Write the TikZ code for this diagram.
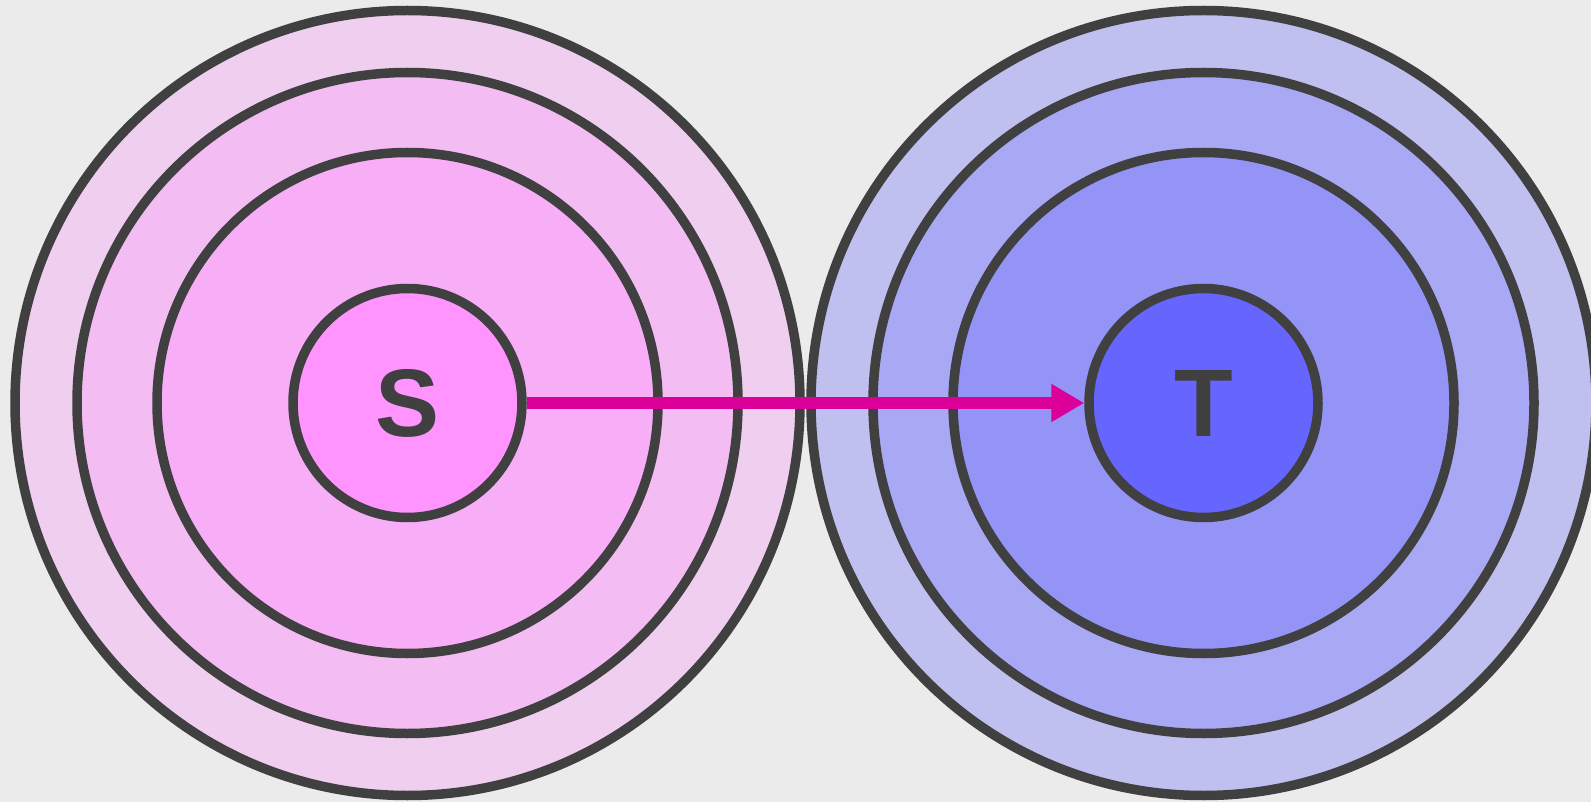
\documentclass[tikz,border=0pt]{standalone}
\usepackage{fontspec}
\setmainfont{Liberation Sans}
\usetikzlibrary{arrows.meta}
\definecolor{bg}{HTML}{EBEBEB}
\definecolor{edge}{HTML}{404040}
\definecolor{pA}{HTML}{F0CEF0}
\definecolor{pB}{HTML}{F3BCF3}
\definecolor{pC}{HTML}{F7AEF7}
\definecolor{pD}{HTML}{FF94FF}
\definecolor{bA}{HTML}{C0C0F0}
\definecolor{bB}{HTML}{A8A8F4}
\definecolor{bC}{HTML}{9494F7}
\definecolor{bD}{HTML}{6666FF}
\definecolor{arrowc}{HTML}{DB0099}
\begin{document}
\begin{tikzpicture}[x=1pt,y=-1pt,
  ring/.style={circle, draw=edge, line width=9.5pt, inner sep=0pt},
  lbl/.style={font=\fontsize{96}{110}\selectfont\bfseries, text=edge},
  link/.style={draw=arrowc, line width=12pt, -{Triangle[length=33pt,width=36pt]}}]
\useasboundingbox (0,0) rectangle (1591,802);
\fill[bg] (0,0) rectangle (1591,802);
\clip (0,0) rectangle (1591,802);
% left rings
\node[ring, fill=pA, minimum size=785pt] (s1) at (407.5,403) {};
\node[ring, fill=pB, minimum size=661pt] (s2) at (407.5,403) {};
\node[ring, fill=pC, minimum size=501pt] (s3) at (407.5,403) {};
\node[ring, fill=pD, minimum size=229pt, lbl] (S) at (407.5,403) {S};
% right rings
\node[ring, fill=bA, minimum size=785pt] (t1) at (1203.5,403) {};
\node[ring, fill=bB, minimum size=661pt] (t2) at (1203.5,403) {};
\node[ring, fill=bC, minimum size=501pt] (t3) at (1203.5,403) {};
\node[ring, fill=bD, minimum size=229pt, lbl] (T) at (1203.5,403) {T};
\draw[link] (S) -- (T);
\end{tikzpicture}
\end{document}
